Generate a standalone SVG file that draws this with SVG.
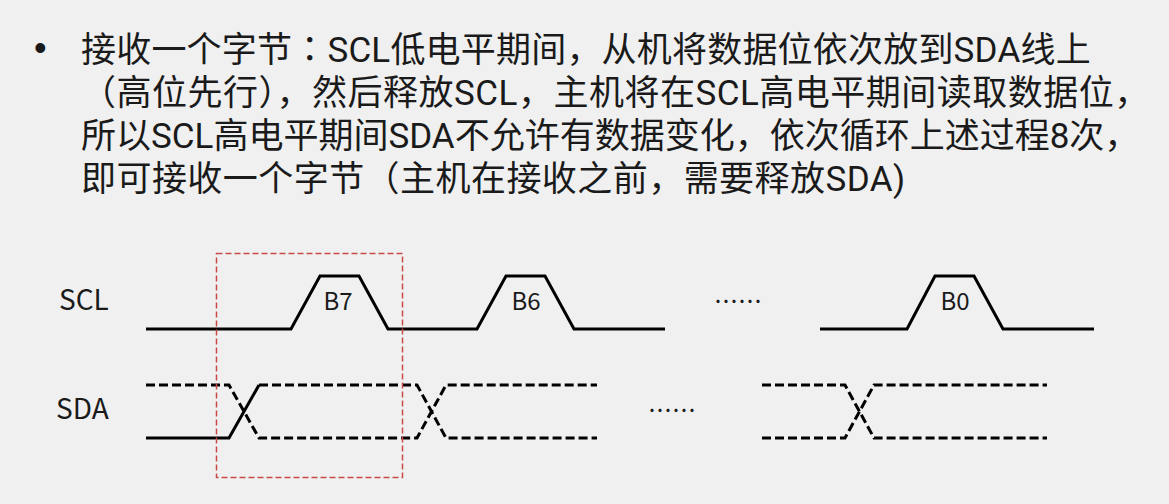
<svg xmlns="http://www.w3.org/2000/svg" width="1169" height="504" viewBox="0 0 1169 504">
  <style>
    .t { font-family: "Noto Sans CJK SC", "Liberation Sans", sans-serif; fill: #1a1a1a; }
    .body { font-family: Roboto, "Noto Sans CJK SC", sans-serif; font-size: 35px; }
    .jp { font-family: "Noto Sans CJK JP", sans-serif; }
    .lbl { font-size: 28px; }
    .bit { font-size: 24px; text-anchor: middle; }
    .dots { font-size: 24px; }
    .wave { fill: none; stroke: #000; stroke-width: 3; stroke-linejoin: miter; }
    .dash { stroke-dasharray: 9 4; }
    .win { fill: none; stroke: #c94a4a; stroke-width: 1.5; stroke-dasharray: 6 3; }
  </style>
  <rect x="0" y="0" width="1169" height="504" fill="#f0f0f0"/>

  <g id="text">
    <text class="t" x="34" y="60" style="font-family:'Liberation Sans',sans-serif;font-size:36px">•</text>
    <text class="t body" x="81" y="62" letter-spacing="0.2">接收一个字节<tspan class="jp">：</tspan>SCL低电平期间，从机将数据位依次放到SDA线上</text>
    <text class="t body" x="81" y="105" letter-spacing="0.5">（高位先行），然后释放SCL，主机将在SCL高电平期间读取数据位，</text>
    <text class="t body" x="81" y="148">所以SCL高电平期间SDA不允许有数据变化，依次循环上述过程8次，</text>
    <text class="t body" x="81" y="191" letter-spacing="0.45">即可接收一个字节（主机在接收之前，需要释放SDA)</text>
  </g>

  <g id="label-scl"><text class="t lbl" x="59" y="310">SCL</text></g>
  <g id="label-sda"><text class="t lbl" x="56" y="419">SDA</text></g>

  <g id="scl-wave">
    <path class="wave" d="M146,329 H291 L320,276 H359 L388,329 H477 L506,276 H545 L574,329 H665"/>
    <path class="wave" d="M820,329 H907 L935,276 H974 L1003,329 H1094"/>
    <text class="t bit" x="338" y="310">B7</text>
    <text class="t bit" x="526" y="310">B6</text>
    <text class="t bit" x="955" y="310">B0</text>
    <text class="t dots" x="714" y="310">……</text>
  </g>

  <g id="sda-wave">
    <path class="wave" d="M146,438 H229 L259,385"/>
    <path class="wave dash" d="M146,385 H229 L259,438 H417 L446,385 H597"/>
    <path class="wave dash" d="M259,385 H417 L446,438 H597"/>
    <path class="wave dash" d="M762,385 H845 L874,438 H1047"/>
    <path class="wave dash" d="M762,438 H845 L874,385 H1047"/>
    <text class="t dots" x="648" y="419">……</text>
  </g>

  <g id="highlight">
    <rect class="win" x="216.5" y="253.5" width="186" height="224"/>
  </g>
</svg>
